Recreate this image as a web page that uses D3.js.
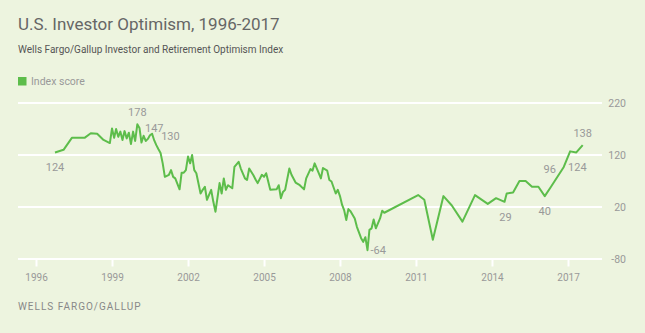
<!DOCTYPE html>
<html>
<head>
<meta charset="utf-8">
<script src="https://cdn.jsdelivr.net/npm/d3@7"></script>
<style>
  body { margin: 0; background: #edf4df; }
  svg { display: block; font-family: Roboto, "Liberation Sans", sans-serif; }
</style>
</head>
<body>
<svg id="chart" width="645" height="333"></svg>
<script>
// Index score, by survey month
const months = [
  "1996-10","1997-02","1997-06","1997-12","1998-03","1998-06","1998-09","1998-12",
  "1999-01","1999-02","1999-03","1999-04","1999-05","1999-06","1999-07","1999-08","1999-09","1999-10","1999-11","1999-12",
  "2000-01","2000-02","2000-03","2000-04","2000-05","2000-06","2000-07","2000-08","2000-09","2000-10","2000-11","2000-12",
  "2001-01","2001-02","2001-04","2001-05","2001-06","2001-07","2001-09","2001-10","2001-11","2001-12",
  "2002-01","2002-02","2002-03","2002-04","2002-05","2002-07","2002-08","2002-09","2002-10","2002-12",
  "2003-01","2003-02","2003-04","2003-05","2003-06","2003-07","2003-08","2003-10","2003-11",
  "2004-01","2004-02","2004-04","2004-05","2004-06","2004-08","2004-09","2004-10","2004-12",
  "2005-01","2005-02","2005-04","2005-07","2005-08","2005-09","2005-10","2005-11",
  "2006-01","2006-02","2006-04","2006-06","2006-08","2006-09","2006-11","2006-12",
  "2007-01","2007-03","2007-04","2007-05","2007-07","2007-08","2007-09","2007-11","2007-12",
  "2008-01","2008-02","2008-03","2008-04","2008-05","2008-06","2008-08","2008-09","2008-11","2008-12",
  "2009-01","2009-02","2009-03","2009-04","2009-05","2009-06","2009-08","2009-09","2009-10",
  "2011-02","2011-05","2011-09","2012-02","2012-06","2012-11","2013-05","2013-11",
  "2014-03","2014-07","2014-08","2014-11","2015-02","2015-05","2015-08","2015-11",
  "2016-02","2016-05","2016-11","2017-02","2017-05","2017-08"
];
const scores = [
  124, 129, 152, 152, 161, 160, 148, 142,
  170, 152, 169, 154, 164, 148, 165, 151, 162, 140, 164, 146,
  178, 171, 143, 156, 146, 150, 157, 160, 147, 138, 130, 123,
  103, 77, 81, 90, 77, 74, 53, 85, 85, 90,
  116, 103, 119, 90, 84, 45, 52, 58, 33, 52,
  29, 10, 65, 45, 74, 52, 61, 55, 96,
  106, 93, 74, 71, 93, 80, 72, 65, 81,
  77, 84, 52, 53, 61, 36, 48, 52,
  93, 81, 66, 61, 53, 74, 92, 89,
  103, 84, 74, 94, 89, 71, 68, 45, 52,
  40, 23, 13, -6, 15, 11, -3, -19, -41, -48,
  -39, -64, -25, -22, -5, -22, -3, 12, 8,
  42, 33, -44, 40, 22, -9, 42, 25,
  36, 29, 45, 47, 69, 69, 58, 58,
  40, 58, 96, 126, 124, 138
];

// Months whose score is printed beside the line
const labelledMonths = ["1996-10","2000-01","2000-09","2000-11","2009-02","2014-07","2016-02","2016-11","2017-05","2017-08"];
const labelOffsets = [[0,15],[0,-12],[0,-12],[12,-13],[3,0],[1,15],[0,15],[-14,2],[1,15],[0,-12]];
const labelAnchors = ["middle","middle","middle","middle","start","middle","middle","middle","middle","middle"];

const yTicks = [-80, 20, 120, 220];
const xTickYears = [1996, 1999, 2002, 2005, 2008, 2011, 2014, 2017];

const green = "#5dbd4b";
const parseMonth = d3.timeParse("%Y-%m");
const data = months.map((m, i) => ({ date: parseMonth(m), key: m, value: scores[i] }));

const svg = d3.select("#chart");

// Title block
svg.append("text").attr("x", 18).attr("y", 30)
  .attr("font-size", 17).attr("fill", "#666")
  .text("U.S. Investor Optimism, 1996-2017");
svg.append("text").attr("x", 18).attr("y", 53)
  .attr("font-size", 10).attr("fill", "#555")
  .text("Wells Fargo/Gallup Investor and Retirement Optimism Index");

// Legend
svg.append("rect").attr("x", 18).attr("y", 77).attr("width", 8.5).attr("height", 8.5).attr("fill", green);
svg.append("text").attr("x", 31).attr("y", 85)
  .attr("font-size", 10.5).attr("fill", "#999")
  .text("Index score");

// Scales
const x = d3.scaleTime()
  .domain([new Date(1996, 0, 1), new Date(2017, 0, 1)])
  .range([36, 568]);
const y = d3.scaleLinear().domain([-80, 220]).range([258.5, 102.5]);

// Horizontal grid with labels on the right
const yAxis = svg.append("g")
  .attr("transform", "translate(602,0)")
  .call(d3.axisRight(y).tickValues(yTicks).tickSize(-584).tickFormat(d3.format("d")));
yAxis.select(".domain").remove();
yAxis.selectAll("line").attr("stroke", "#fff").attr("stroke-width", 2);
yAxis.selectAll("text")
  .attr("x", 24).attr("dy", "0.35em")
  .attr("text-anchor", "end")
  .attr("font-size", 10.5).attr("fill", "#999")
  .attr("font-family", "Roboto, sans-serif")
  .text(d => d < 0 ? "-" + Math.abs(d) : d);

// Year ticks hanging from the bottom line
const xAxis = svg.append("g")
  .attr("transform", `translate(0,${y(-80)})`)
  .call(d3.axisBottom(x)
    .tickValues(xTickYears.map(yr => new Date(yr, 0, 1)))
    .tickSize(8).tickPadding(7)
    .tickFormat(d3.timeFormat("%Y")));
xAxis.select(".domain").remove();
xAxis.selectAll("line").attr("stroke", "#fff").attr("stroke-width", 2);
xAxis.selectAll("text")
  .attr("font-size", 10).attr("fill", "#999")
  .attr("font-family", "Roboto, sans-serif");

// Index line
const line = d3.line()
  .x(d => x(d.date))
  .y(d => y(d.value));

svg.append("path")
  .datum(data)
  .attr("fill", "none")
  .attr("stroke", green)
  .attr("stroke-width", 2)
  .attr("stroke-linejoin", "round")
  .attr("d", line);

// Value labels
svg.append("g")
  .selectAll("text")
  .data(labelledMonths.map((m, i) => ({ d: data.find(p => p.key === m), off: labelOffsets[i], anchor: labelAnchors[i] })))
  .join("text")
  .attr("x", l => x(l.d.date) + l.off[0])
  .attr("y", l => y(l.d.value) + l.off[1])
  .attr("dy", "0.35em")
  .attr("text-anchor", l => l.anchor)
  .attr("font-size", 11).attr("fill", "#999")
  .text(l => l.d.value < 0 ? "-" + Math.abs(l.d.value) : l.d.value);

// Source
svg.append("text").attr("x", 18).attr("y", 310)
  .attr("font-size", 10).attr("fill", "#888")
  .attr("letter-spacing", 1)
  .text("WELLS FARGO/GALLUP");
</script>
</body>
</html>
